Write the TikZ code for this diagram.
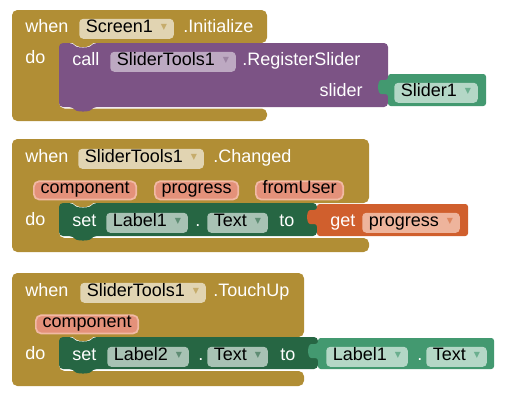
\documentclass[tikz,border=0pt]{standalone}
\usepackage{fontspec}
\setmainfont{Liberation Sans}
\newfontfamily\symfont{DejaVu Sans}
\usepackage{tikz}

\definecolor{evgold}{HTML}{B18E35}
\definecolor{evgoldlt}{HTML}{E1D4B2}
\definecolor{evgoldarr}{HTML}{C6AC6C}
\definecolor{callpurple}{HTML}{7C5385}
\definecolor{callpurplelt}{HTML}{BDA9C2}
\definecolor{callpurplearr}{HTML}{9C84A2}
\definecolor{setgreen}{HTML}{266643}
\definecolor{setgreenlt}{HTML}{A8C2B4}
\definecolor{setgreenarr}{HTML}{5F8D74}
\definecolor{compgreen}{HTML}{439970}
\definecolor{compgreenlt}{HTML}{B4D7C6}
\definecolor{compgreenarr}{HTML}{6BAF8F}
\definecolor{getorange}{HTML}{D05F2D}
\definecolor{getorangelt}{HTML}{EEB49C}
\definecolor{getorangearr}{HTML}{DE8760}
\definecolor{parfill}{HTML}{E4917A}
\definecolor{parline}{HTML}{F1B9A4}

\newcommand{\bfnt}{\fontsize{13.5pt}{16pt}\selectfont}
\newcommand{\ddarrow}[1]{\hspace{6pt}\raisebox{1.6pt}{\symfont\fontsize{6pt}{6pt}\selectfont\textcolor{#1}{▼}}}

\tikzset{
    lbl/.style={anchor=base west, inner sep=0pt, text=white, font=\bfnt},
    ddbox/.style={anchor=base west, fill=#1, rounded corners=3pt, inner xsep=5pt,
        inner ysep=0pt, text height=9.9pt, text depth=5.1pt, font=\bfnt},
    param/.style={anchor=base west, fill=parfill, draw=parline, line width=1.3pt,
        rounded corners=4pt, inner xsep=5pt, inner ysep=0pt, text height=9.2pt,
        text depth=4.5pt, font=\bfnt}
}

\begin{document}
\begin{tikzpicture}[x=0.75pt,y=-0.75pt]
    \useasboundingbox (0,0) rectangle (522,400);

    % when Screen1.Initialize
    \fill[evgold, rounded corners=4pt] (12,10) -- (267,10) -- (267,43) -- (59,43)
        -- (59,108.5) -- (267,108.5) -- (267,121) -- (12,121) -- cycle;
    \fill[evgold] (72,42) .. controls (77,49) and (89,49) .. (94,42) -- cycle;
    \fill[callpurple, rounded corners=3pt] (59,43) -- (73,43) .. controls (77,48) and (89,48) .. (93,43)
        -- (388,43) -- (388,107) -- (93,107) .. controls (89,112) and (77,112) .. (73,107)
        -- (59,107) -- cycle;
    \fill[compgreen, rounded corners=2pt] (388,74) -- (486,74) -- (486,106) -- (388,106)
        -- (388,94) -- (384,94) .. controls (377,94) and (377,80) .. (384,80) -- (388,80) -- cycle;

    \node[lbl] (when1) at (25,32) {when};
    \node[ddbox=evgoldlt] (screen) at (79,32) {Screen1\ddarrow{evgoldarr}};
    \node[lbl] (init) at (183,32) {.Initialize};
    \node[lbl] (do1) at (25,63) {do};
    \node[lbl] (call) at (72,65) {call};
    \node[ddbox=callpurplelt] (tools1) at (110,65) {SliderTools1\ddarrow{callpurplearr}};
    \node[lbl] (register) at (242,65) {.RegisterSlider};
    \node[lbl, anchor=base east] (slider) at (363,96) {slider};
    \node[ddbox=compgreenlt] (slider1) at (394,96) {Slider1\ddarrow{compgreenarr}};

    % when SliderTools1.Changed
    \fill[evgold, rounded corners=4pt] (12,139) -- (369,139) -- (369,203) -- (59,203)
        -- (59,238) -- (369,238) -- (369,252) -- (12,252) -- cycle;
    \fill[evgold] (72,202) .. controls (77,209) and (89,209) .. (94,202) -- cycle;
    \fill[setgreen, rounded corners=3pt] (59,203) -- (73,203) .. controls (77,208) and (89,208) .. (93,203)
        -- (317,203) -- (317,236) -- (93,236) .. controls (89,241) and (77,241) .. (73,236)
        -- (59,236) -- cycle;
    \fill[getorange, rounded corners=2pt] (317,204) -- (468,204) -- (468,236) -- (317,236)
        -- (317,224) -- (313,224) .. controls (306,224) and (306,210) .. (313,210) -- (317,210) -- cycle;

    \node[lbl] (when2) at (25,162) {when};
    \node[ddbox=evgoldlt] (tools2) at (78,162) {SliderTools1\ddarrow{evgoldarr}};
    \node[lbl] (changed) at (213,162) {.Changed};
    \node[param] (comp2) at (33,193.5) {component};
    \node[param] (prog2) at (154,193.5) {progress};
    \node[param] (user2) at (255,193.5) {fromUser};
    \node[lbl] (do2) at (25,225) {do};
    \node[lbl] (set2) at (72,226) {set};
    \node[ddbox=setgreenlt] (label1a) at (106,226) {Label1\ddarrow{setgreenarr}};
    \node[lbl] (dot2) at (195,226) {.};
    \node[ddbox=setgreenlt] (text2) at (207,226) {Text\ddarrow{setgreenarr}};
    \node[lbl] (to2) at (279,226) {to};
    \node[lbl] (get) at (330,226) {get};
    \node[ddbox=getorangelt] (progget) at (362,226) {progress\ddarrow{getorangearr}};

    % when SliderTools1.TouchUp
    \fill[evgold, rounded corners=4pt] (12,273) -- (304,273) -- (304,337) -- (59,337)
        -- (59,371) -- (304,371) -- (304,386) -- (12,386) -- cycle;
    \fill[evgold] (72,336) .. controls (77,343) and (89,343) .. (94,336) -- cycle;
    \fill[setgreen, rounded corners=3pt] (59,337) -- (73,337) .. controls (77,342) and (89,342) .. (93,337)
        -- (318,337) -- (318,369) -- (93,369) .. controls (89,374) and (77,374) .. (73,369)
        -- (59,369) -- cycle;
    \fill[compgreen, rounded corners=2pt] (318,338) -- (494,338) -- (494,369) -- (318,369)
        -- (318,358) -- (314,358) .. controls (307,358) and (307,344) .. (314,344) -- (318,344) -- cycle;

    \node[lbl] (when3) at (25,296) {when};
    \node[ddbox=evgoldlt] (tools3) at (80,296) {SliderTools1\ddarrow{evgoldarr}};
    \node[lbl] (touchup) at (213,296) {.TouchUp};
    \node[param] (comp3) at (35,327.5) {component};
    \node[lbl] (do3) at (25,359) {do};
    \node[lbl] (set3) at (72,360) {set};
    \node[ddbox=setgreenlt] (label2) at (107,360) {Label2\ddarrow{setgreenarr}};
    \node[lbl] (dot3) at (198,360) {.};
    \node[ddbox=setgreenlt] (text3) at (207,360) {Text\ddarrow{setgreenarr}};
    \node[lbl] (to3) at (280,360) {to};
    \node[ddbox=compgreenlt] (label1b) at (326,360) {Label1\ddarrow{compgreenarr}};
    \node[lbl] (dot4) at (417,360) {.};
    \node[ddbox=compgreenlt] (text4) at (426,360) {Text\ddarrow{compgreenarr}};
\end{tikzpicture}
\end{document}
